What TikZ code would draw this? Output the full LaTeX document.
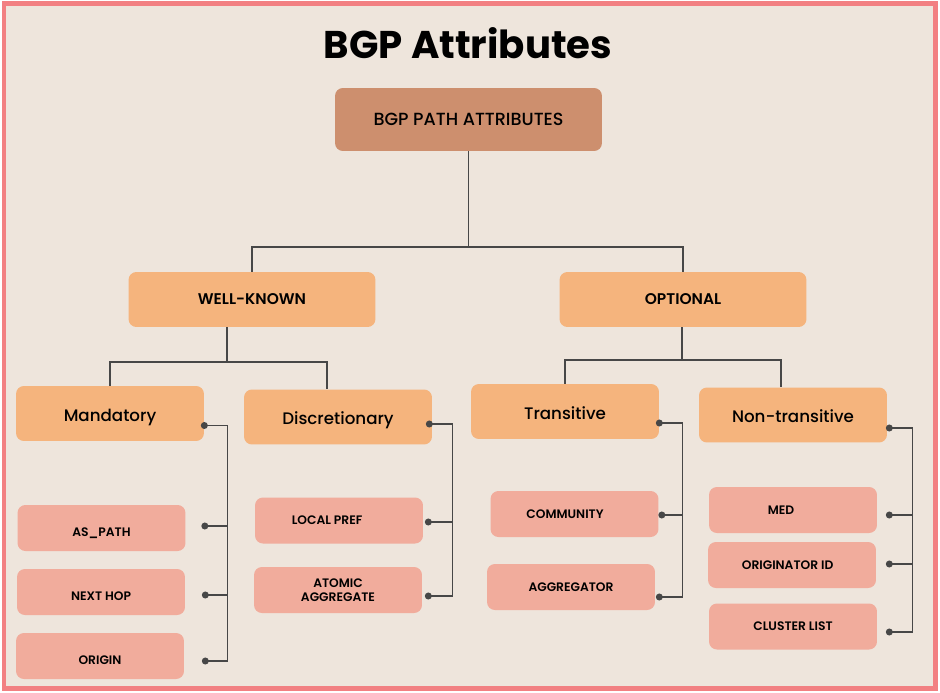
\documentclass[tikz,border=0pt]{standalone}
\usepackage{fontspec}
\setmainfont{Poppins}
\newfontfamily\medfont{Poppins Medium}
\newfontfamily\semifont{Poppins SemiBold}
\usepackage{tikz}
\usetikzlibrary{calc}

\definecolor{bgcream}{HTML}{EEE5DC}
\definecolor{framepink}{HTML}{F28082}
\definecolor{rootbrown}{HTML}{CD8F6E}
\definecolor{midorange}{HTML}{F5B47D}
\definecolor{leafpink}{HTML}{F1AC9C}
\definecolor{linegray}{HTML}{474747}

\begin{document}
\begin{tikzpicture}[x=0.02cm,y=-0.02cm,
  rootbox/.style={fill=rootbrown, rounded corners=4.5pt, minimum width=5.34cm, minimum height=1.26cm, inner sep=0pt, font=\medfont\fontsize{10}{12}\selectfont},
  kindbox/.style={fill=midorange, rounded corners=4.5pt, minimum width=4.94cm, minimum height=1.1cm, inner sep=0pt, font=\semifont\fontsize{8.8}{10}\selectfont},
  subbox/.style={fill=midorange, rounded corners=4.5pt, minimum width=3.76cm, minimum height=1.1cm, inner sep=0pt, text height=8.8pt, text depth=0pt, font=\medfont\fontsize{9.5}{12}\selectfont},
  leafbox/.style={fill=leafpink, rounded corners=4.5pt, minimum width=3.36cm, minimum height=0.92cm, inner sep=0pt, align=center, font=\semifont\fontsize{7}{8}\selectfont},
  lowtext/.style={text height=10pt, text depth=0pt},
  lefttext/.style={execute at end node={\hspace*{#1}}},
  link/.style={draw=linegray, line width=0.9pt}]
\useasboundingbox (0,0) rectangle (940,693);
\fill[white] (0,0) rectangle (940,693);
\filldraw[fill=bgcream, draw=framepink, line width=0.1cm] (4,3.5) rectangle (935.5,688.5);
\node[font=\bfseries\fontsize{22}{26}\selectfont] (title) at (468,43) {BGP Attributes}; %label

% boxes
\node[rootbox] (root) at (468.5,119.5) {BGP PATH ATTRIBUTES};
\node[kindbox] (wk) at (252,299.5) {WELL-KNOWN};
\node[kindbox] (opt) at (683,299.5) {OPTIONAL};
\node[subbox] (mand) at (110,413.5) {Mandatory};
\node[subbox] (disc) at (338,417) {Discretionary};
\node[subbox] (trans) at (565,411.5) {Transitive};
\node[subbox] (nontr) at (793,415) {Non-transitive};
\node[leafbox,lowtext] (aspath) at (101.5,528) {AS\_PATH};
\node[leafbox,lowtext] (nexthop) at (101,592) {NEXT HOP};
\node[leafbox,lowtext] (origin) at (100,656) {ORIGIN};
\node[leafbox,lefttext=13.6pt] (lpref) at (339,520.5) {LOCAL PREF};
\node[leafbox] (atomic) at (338,590) {ATOMIC\\AGGREGATE};
\node[leafbox,lefttext=10.8pt] (comm) at (574.5,514) {COMMUNITY};
\node[leafbox] (aggr) at (571,587) {AGGREGATOR};
\node[leafbox,lefttext=13.6pt] (med) at (793,510) {MED};
\node[leafbox,lefttext=5pt] (origid) at (792,565) {ORIGINATOR ID};
\node[leafbox] (clus) at (793,626.5) {CLUSTER LIST};

% tree links
\coordinate (j0) at (468.5,247);
\coordinate (j1) at (227,362);
\coordinate (j2) at (682,360);
\draw[link] (root.south) -- (j0) -| (wk.north);
\draw[link] (j0) -| (opt.north);
\draw[link] (wk.south -| j1) -- (j1) -| (mand.north);
\draw[link] (j1) -| ($(disc.north)+(-11,0)$);
\draw[link] (opt.south -| j2) -- (j2) -| (trans.north);
\draw[link] (j2) -| ($(nontr.north)+(-12,0)$);

% brackets
\coordinate (mdot) at ($(mand.east)+(0,12)$);
\coordinate (asdot) at ($(aspath.east)+(19,-2)$);
\coordinate (nhdot) at ($(nexthop.east)+(20,3)$);
\coordinate (ordot) at ($(origin.east)+(21,5)$);
\draw[link] (mdot) -- ++(23,0) |- (ordot);
\draw[link] (asdot) -- ++(23,0);
\draw[link] (nhdot) -- ++(22,0);

\coordinate (ddot) at ($(disc.east)+(-3,7)$);
\coordinate (lpdot) at ($(lpref.east)+(5,1.5)$);
\coordinate (aadot) at ($(atomic.east)+(6,6)$);
\draw[link] (ddot) -- ++(23,0) |- (aadot);
\draw[link] (lpdot) -- ++(24,0);

\coordinate (tdot) at ($(trans.east)+(0,11.5)$);
\coordinate (cmdot) at ($(comm.east)+(3,1)$);
\coordinate (agdot) at ($(aggr.east)+(4,10)$);
\draw[link] (tdot) -- ++(23,0) |- (agdot);
\draw[link] (cmdot) -- ++(21,0);

\coordinate (ndot) at ($(nontr.east)+(2,13)$);
\coordinate (mddot) at ($(med.east)+(12,5)$);
\coordinate (oidot) at ($(origid.east)+(13,-1)$);
\coordinate (cldot) at ($(clus.east)+(12,5.5)$);
\draw[link] (ndot) -- ++(23,0) |- (cldot);
\draw[link] (mddot) -- ++(23,0);
\draw[link] (oidot) -- ++(23,0);

\foreach \d in {mdot,asdot,nhdot,ordot,ddot,lpdot,aadot,tdot,cmdot,agdot,ndot,mddot,oidot,cldot}
  \fill[linegray] (\d) circle (2pt);
\end{tikzpicture}
\end{document}
